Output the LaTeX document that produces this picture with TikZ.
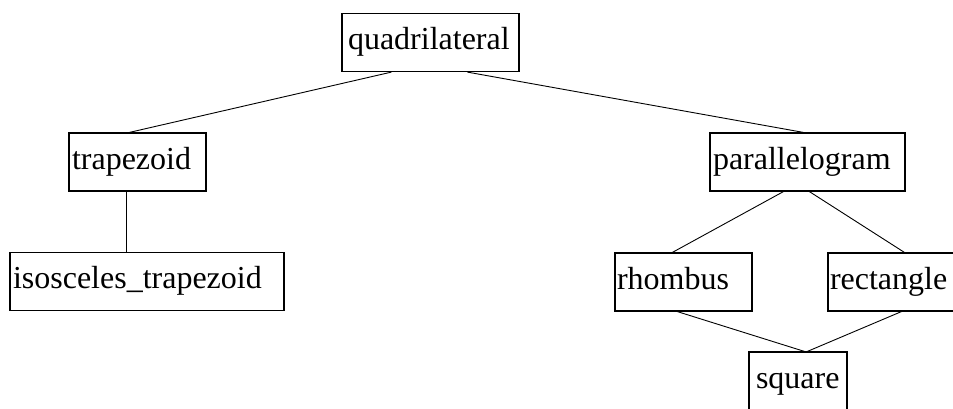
\documentclass[tikz,border=0pt]{standalone}
\usepackage{fontspec}
\setmainfont{Liberation Serif}
\usetikzlibrary{calc}
\begin{document}
\begin{tikzpicture}[x=1pt,y=-1pt,
  box/.style={draw, rectangle, line width=1.2pt, inner ysep=0pt,
    text height=22pt, text depth=8pt, minimum height=58pt, align=left,
    font=\fontsize{32}{36}\selectfont},
  link/.style={draw, line width=0.9pt}]
\useasboundingbox (0,0) rectangle (953,408);
\clip (0,0) rectangle (953,408);
\fill[white] (0,0) rectangle (953,408);
\node[box, inner xsep=6pt, text width=165pt] (quad) at (430.5,42.5) {quadrilateral};
\node[box, inner xsep=3pt, text width=131pt] (trap) at (137.5,162) {trapezoid};
\node[box, inner xsep=3pt, text width=268pt] (isos) at (147,281.5) {isosceles\_trapezoid};
\node[box, inner xsep=3pt, text width=189pt] (para) at (807.5,162) {parallelogram};
\node[box, inner xsep=2pt, text width=133pt] (rhom) at (683.5,282) {rhombus};
\node[box, inner xsep=2pt, text width=132pt] (rect) at (896,282) {rectangle};
\node[box, inner xsep=7pt, text width=84pt] (sq) at (798,381) {square};
\draw[link] ($(quad.south west)+(50,0)$) -- ($(trap.north west)+(61,0)$);
\draw[link] ($(quad.south west)+(126,0)$) -- ($(para.north west)+(94,0)$);
\draw[link] ($(trap.south west)+(58,0)$) -- ($(isos.north west)+(117,0)$);
\draw[link] ($(para.south west)+(74,0)$) -- ($(rhom.north west)+(58,0)$);
\draw[link] ($(para.south west)+(100,0)$) -- ($(rect.north west)+(77,0)$);
\draw[link] ($(rhom.south west)+(63,0)$) -- ($(sq.north west)+(56,0)$);
\draw[link] ($(rect.south west)+(74,0)$) -- ($(sq.north west)+(59,0)$);
\end{tikzpicture}
\end{document}
